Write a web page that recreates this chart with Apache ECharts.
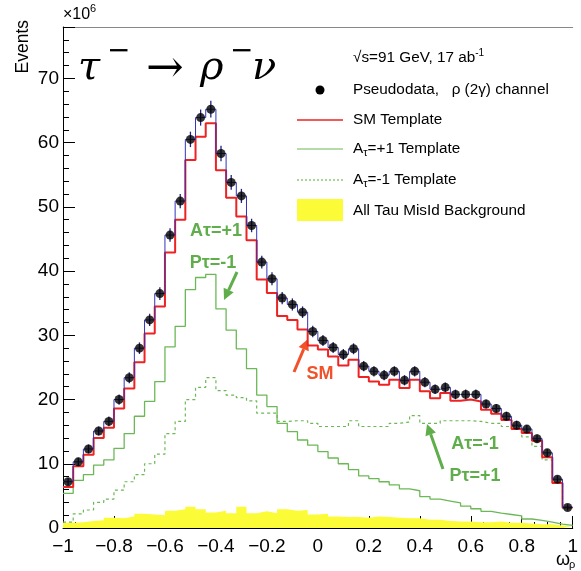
<!DOCTYPE html>
<html><head><meta charset="utf-8">
<script src="https://cdn.jsdelivr.net/npm/echarts@6.0.0/dist/echarts.min.js"></script>
<style>html,body{margin:0;padding:0;background:#fff}#c{width:581px;height:571px}</style>
</head><body><div id="c"></div>
<script>
// binning of omega_rho: 50 bins from -1 to 1
const binLow = -1;
const binWidth = 0.04;
const nBins = 50;

const pseudodata = [7.2, 10.3, 12.3, 15.1, 16.6, 20.0, 23.4, 28.0, 32.4, 36.5,
  45.6, 50.9, 60.5, 63.9, 65.2, 58.3, 53.8, 51.7, 47.1, 41.4,
  38.8, 35.8, 34.8, 33.6, 30.6, 29.2, 28.1, 27.0, 27.9, 25.2,
  24.4, 23.8, 24.4, 23.0, 24.4, 22.7, 21.6, 21.9, 20.8, 20.8,
  20.8, 19.3, 18.6, 17.4, 16.0, 15.4, 13.9, 11.7, 7.6, 3.2];

const pseudodataErr = [0.6, 0.65, 0.7, 0.7, 0.75, 0.8, 0.85, 0.9, 0.95, 1.0,
  1.05, 1.1, 1.2, 1.25, 1.3, 1.2, 1.15, 1.1, 1.05, 1.0,
  1.0, 0.95, 0.95, 0.9, 0.9, 0.85, 0.85, 0.85, 0.85, 0.8,
  0.8, 0.8, 0.8, 0.8, 0.8, 0.8, 0.75, 0.75, 0.75, 0.75,
  0.75, 0.7, 0.7, 0.7, 0.7, 0.65, 0.65, 0.6, 0.55, 0.5];

const smTemplate = [6.4, 9.6, 11.4, 14.0, 15.6, 18.6, 21.7, 25.8, 30.3, 34.5,
  42.9, 48.0, 57.3, 60.9, 63.0, 55.7, 51.4, 48.5, 44.8, 38.7,
  36.6, 33.0, 32.4, 30.9, 28.4, 27.8, 26.7, 25.3, 26.2, 23.5,
  22.8, 22.3, 23.1, 21.8, 23.1, 21.3, 20.2, 21.0, 19.8, 20.0,
  19.7, 18.4, 17.8, 16.8, 15.4, 14.8, 13.6, 11.0, 7.0, 3.2];

const aPlusTemplate = [5.4, 7.4, 8.3, 9.8, 10.6, 12.4, 14.7, 17.4, 19.7, 22.8,
  28.2, 31.4, 37.1, 39.0, 39.5, 34.1, 30.8, 27.9, 24.8, 20.7,
  18.9, 16.3, 15.0, 13.7, 12.9, 11.9, 10.9, 10.0, 9.1, 8.1,
  7.7, 7.2, 6.7, 6.1, 5.8, 4.9, 4.5, 4.2, 3.9, 3.4,
  3.0, 2.6, 2.3, 2.1, 1.9, 1.4, 1.2, 0.9, 0.6, 0.4];

const aMinusTemplate = [0.9, 2.2, 2.8, 4.0, 4.5, 5.9, 7.2, 8.3, 10.0, 11.5,
  14.7, 16.6, 20.0, 21.9, 23.4, 21.4, 20.7, 20.3, 19.8, 17.9,
  17.9, 16.6, 16.7, 16.7, 16.3, 15.8, 15.8, 15.8, 16.7, 15.8,
  15.8, 15.8, 16.3, 16.5, 17.5, 16.3, 16.3, 16.7, 16.7, 16.7,
  16.6, 16.3, 16.3, 15.8, 15.8, 14.2, 12.7, 10.6, 7.0, 3.0];

const misIdBackground = [0.8, 0.9, 1.1, 1.2, 1.6, 1.5, 1.8, 2.2, 2.1, 2.0,
  2.7, 2.9, 3.3, 2.9, 2.4, 2.7, 2.3, 3.3, 2.3, 2.6,
  2.3, 2.9, 2.7, 2.8, 2.1, 2.2, 1.8, 1.7, 1.7, 1.6,
  1.8, 1.7, 1.6, 1.5, 1.5, 1.3, 1.3, 1.1, 1.0, 1.0,
  0.9, 0.9, 1.0, 0.8, 0.8, 0.7, 0.6, 0.6, 0.4, 0.3];

const FONT = 'Liberation Sans';
const SERIF = 'DejaVu Serif';
const GREEN = '#6cb857';
const GREEN_TXT = '#5fae4b';
const RED = '#ee2222';

function edge(i) { return +(binLow + i * binWidth).toFixed(4); }
function center(i) { return +(binLow + (i + 0.5) * binWidth).toFixed(4); }
function steps(vals) {
  const pts = vals.map((v, i) => [edge(i), v]);
  pts.push([edge(vals.length), vals[vals.length - 1]]);
  return pts;
}
function fmtX(v) {
  const r = Math.round(v * 10) / 10;
  return r < 0 ? '\u2212' + String(-r) : String(r);
}

const chart = echarts.init(document.getElementById('c'), null, {renderer: 'canvas'});

function arrow(x1, y1, x2, y2, color) {
  const dx = x2 - x1, dy = y2 - y1, L = Math.hypot(dx, dy);
  const ux = dx / L, uy = dy / L, hl = 11, hw = 5.5;
  const bx = x2 - ux * hl, by = y2 - uy * hl;
  return {
    type: 'group', children: [
      {type: 'line', shape: {x1: x1, y1: y1, x2: bx, y2: by}, style: {stroke: color, lineWidth: 3}},
      {type: 'polygon', shape: {points: [[x2, y2], [bx - uy * hw, by + ux * hw], [bx + uy * hw, by - ux * hw]]}, style: {fill: color}}
    ]
  };
}

const LFS = 15.3;
const legendRich = {
  n: {fontSize: LFS, fontFamily: FONT, color: '#111', lineHeight: 19},
  sub: {fontSize: 11, fontFamily: FONT, color: '#111', lineHeight: 11, verticalAlign: 'bottom'},
  sup: {fontSize: 10, fontFamily: FONT, color: '#111', lineHeight: 11, verticalAlign: 'top'}
};
function legendText(y, txt) {
  return {type: 'text', x: 353, y: y, style: {text: txt, rich: legendRich, verticalAlign: 'middle', align: 'left'}};
}

const titleStyle = {fontFamily: SERIF, fontStyle: 'italic', fontSize: 40, fill: '#000', verticalAlign: 'middle', align: 'left'};
const minusStyle = {fontFamily: 'DejaVu Sans', fontSize: 28, fill: '#000', verticalAlign: 'middle', align: 'left', text: '\u2212'};

const option = {
  animation: false,
  backgroundColor: '#fff',
  grid: {left: 63, right: -2, top: 27, bottom: 43, containLabel: false},
  xAxis: [{
    type: 'value', min: -1, max: 1, interval: 0.2,
    axisLine: {show: true, onZero: false, lineStyle: {color: '#000', width: 1}},
    axisTick: {show: true, inside: true, length: 12, lineStyle: {color: '#000'}},
    minorTick: {show: true, splitNumber: 4, length: 6, lineStyle: {color: '#000'}},
    splitLine: {show: false},
    axisLabel: {fontFamily: FONT, fontSize: 19, color: '#000', margin: 9, formatter: fmtX}
  }, {
    type: 'value', position: 'top', min: -1, max: 1,
    axisLine: {show: true, onZero: false, lineStyle: {color: '#888'}},
    axisTick: {show: false}, axisLabel: {show: false}, splitLine: {show: false}
  }],
  yAxis: {
    type: 'value', min: 0, max: 78, interval: 10,
    axisLine: {show: true, onZero: false, lineStyle: {color: '#000'}},
    axisTick: {show: true, inside: true, length: 12, lineStyle: {color: '#000'}},
    minorTick: {show: true, splitNumber: 5, length: 6, lineStyle: {color: '#000'}},
    splitLine: {show: false},
    axisLabel: {fontFamily: FONT, fontSize: 19, color: '#000', margin: 4, showMaxLabel: false,
      formatter: v => (v % 10 === 0 ? String(v) : '')}
  },
  series: [
    {type: 'line', name: 'bkg', step: 'end', data: steps(misIdBackground), symbol: 'none',
      lineStyle: {width: 0, color: '#ffff33'}, areaStyle: {color: '#fbfb38', opacity: 1}, z: 1},
    {type: 'line', name: 'A-1', step: 'end', data: steps(aMinusTemplate), symbol: 'none',
      lineStyle: {width: 1.2, color: GREEN, type: [3, 3]}, z: 2},
    {type: 'line', name: 'A+1', step: 'end', data: steps(aPlusTemplate), symbol: 'none',
      lineStyle: {width: 1.3, color: GREEN}, z: 3},
    {type: 'line', name: 'SM', step: 'end', data: steps(smTemplate), symbol: 'none',
      lineStyle: {width: 2, color: RED}, z: 4},
    {type: 'line', name: 'datahist', step: 'end', data: steps(pseudodata), symbol: 'none',
      lineStyle: {width: 1, color: '#3333bb'}, z: 5},
    {type: 'custom', name: 'err', z: 6,
      data: pseudodata.map((v, i) => [center(i), v, pseudodataErr[i]]),
      renderItem: (params, api) => {
        const x = api.value(0), y = api.value(1), e = api.value(2);
        const a = api.coord([x, y + e]), b = api.coord([x, y - e]);
        return {type: 'line', shape: {x1: a[0], y1: a[1], x2: b[0], y2: b[1]},
          style: {stroke: '#22228a', lineWidth: 1.3}};
      }},
    {type: 'scatter', name: 'Pseudodata', data: pseudodata.map((v, i) => [center(i), v]),
      symbol: 'circle', symbolSize: 9, itemStyle: {color: '#000'}, z: 7}
  ],
  graphic: [
    {type: 'text', x: 63, y: 15, style: {text: '\u00d710', fontFamily: FONT, fontSize: 16, fill: '#000', verticalAlign: 'middle'}},
    {type: 'text', x: 90, y: 9, style: {text: '6', fontFamily: FONT, fontSize: 11, fill: '#000', verticalAlign: 'middle'}},
    {type: 'text', x: 23, y: 20, rotation: Math.PI / 2,
      style: {text: 'Events', fontFamily: FONT, fontSize: 17.5, fill: '#000', align: 'right', verticalAlign: 'middle'}},
    {type: 'text', x: 556, y: 560, style: {text: '\u03c9', fontFamily: FONT, fontSize: 18, fill: '#000', verticalAlign: 'middle'}},
    {type: 'text', x: 569, y: 565, style: {text: '\u03c1', fontFamily: FONT, fontSize: 11, fill: '#000', verticalAlign: 'middle'}},
    // title
    {type: 'text', x: 78, y: 69, style: Object.assign({}, titleStyle, {text: '\u03c4'})},
    {type: 'text', x: 107, y: 52, style: Object.assign({}, minusStyle)},
    {type: 'text', x: 146, y: 70, style: Object.assign({}, titleStyle, {text: '\u2192', fontStyle: 'normal', fontSize: 45})},
    {type: 'text', x: 200, y: 69, style: Object.assign({}, titleStyle, {text: '\u03c1'})},
    {type: 'text', x: 230, y: 52, style: Object.assign({}, minusStyle)},
    {type: 'text', x: 252, y: 69, style: Object.assign({}, titleStyle, {text: '\u03bd'})},
    // legend
    legendText(58, '{n|\u221as=91 GeV, 17 ab}{sup|-1}'),
    {type: 'circle', shape: {cx: 320, cy: 90, r: 4.5}, style: {fill: '#000'}},
    legendText(90, '{n|Pseudodata,   \u03c1 (2\u03b3) channel}'),
    {type: 'line', shape: {x1: 297, y1: 120, x2: 343, y2: 120}, style: {stroke: RED, lineWidth: 1.5}},
    legendText(120, '{n|SM Template}'),
    {type: 'line', shape: {x1: 297, y1: 149, x2: 343, y2: 149}, style: {stroke: GREEN, lineWidth: 1.2}},
    legendText(149, '{n|A}{sub|\u03c4}{n|=+1 Template}'),
    {type: 'line', shape: {x1: 297, y1: 180, x2: 343, y2: 180}, style: {stroke: GREEN, lineWidth: 1.2, lineDash: [2, 2]}},
    legendText(180, '{n|A}{sub|\u03c4}{n|=-1 Template}'),
    {type: 'rect', shape: {x: 297, y: 199, width: 46, height: 22}, style: {fill: '#fbfb38'}},
    legendText(211, '{n|All Tau MisId Background}'),
    // annotations
    {type: 'text', x: 216, y: 231, style: {text: 'A\u03c4=+1', fontFamily: FONT, fontWeight: 'bold', fontSize: 18, fill: GREEN_TXT, align: 'center', verticalAlign: 'middle'}},
    {type: 'text', x: 213, y: 263, style: {text: 'P\u03c4=-1', fontFamily: FONT, fontWeight: 'bold', fontSize: 18, fill: GREEN_TXT, align: 'center', verticalAlign: 'middle'}},
    arrow(237, 272, 224, 300, GREEN_TXT),
    {type: 'text', x: 320, y: 374, style: {text: 'SM', fontFamily: FONT, fontWeight: 'bold', fontSize: 18, fill: '#f0522a', align: 'center', verticalAlign: 'middle'}},
    arrow(294, 372, 308, 339, '#f0522a'),
    {type: 'text', x: 475, y: 444, style: {text: 'A\u03c4=-1', fontFamily: FONT, fontWeight: 'bold', fontSize: 18, fill: GREEN_TXT, align: 'center', verticalAlign: 'middle'}},
    {type: 'text', x: 475, y: 476, style: {text: 'P\u03c4=+1', fontFamily: FONT, fontWeight: 'bold', fontSize: 18, fill: GREEN_TXT, align: 'center', verticalAlign: 'middle'}},
    arrow(443, 469, 427, 424, GREEN_TXT)
  ]
};
chart.setOption(option);
</script>
</body></html>
